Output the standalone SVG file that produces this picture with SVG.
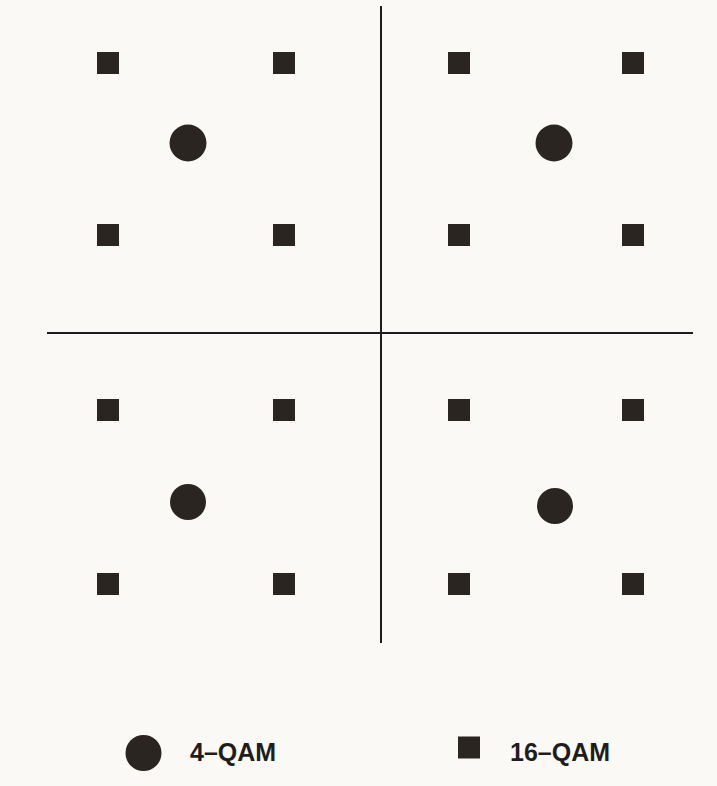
<svg xmlns="http://www.w3.org/2000/svg" width="717" height="786" viewBox="0 0 717 786">
<defs>
<style>
.sq{fill:#2b2521}
.pt{fill:#2b2521}
.ax{stroke:#1e1c1e;stroke-width:2;fill:none}
.lbl{font-family:"Liberation Sans",Arial,sans-serif;font-weight:bold;font-size:25px;fill:#1f1d1c}
</style>
<rect id="sqr" x="-11" y="-11" width="22" height="22" class="sq"/>
</defs>
<rect width="717" height="786" fill="#fbf9f5"/>
<g id="axes">
<line class="ax" x1="381" y1="6" x2="381" y2="643"/>
<line class="ax" x1="47" y1="333" x2="693" y2="333"/>
</g>
<g id="qam16">
<use href="#sqr" x="108" y="63"/>
<use href="#sqr" x="284" y="63"/>
<use href="#sqr" x="459" y="63"/>
<use href="#sqr" x="633" y="63"/>
<use href="#sqr" x="108" y="235"/>
<use href="#sqr" x="284" y="235"/>
<use href="#sqr" x="459" y="235"/>
<use href="#sqr" x="633" y="235"/>
<use href="#sqr" x="108" y="410"/>
<use href="#sqr" x="284" y="410"/>
<use href="#sqr" x="459" y="410"/>
<use href="#sqr" x="633" y="410"/>
<use href="#sqr" x="108" y="584"/>
<use href="#sqr" x="284" y="584"/>
<use href="#sqr" x="459" y="584"/>
<use href="#sqr" x="633" y="584"/>
</g>
<g id="qam4">
<circle class="pt" cx="188" cy="143" r="18.5"/>
<circle class="pt" cx="554" cy="143" r="18.5"/>
<circle class="pt" cx="188" cy="502" r="18"/>
<circle class="pt" cx="555" cy="506" r="18"/>
</g>
<g id="legend-4qam">
<circle class="pt" cx="143.5" cy="753" r="18"/>
<text class="lbl" x="190" y="761">4–QAM</text>
</g>
<g id="legend-16qam">
<use href="#sqr" x="469" y="747.5"/>
<text class="lbl" x="510" y="761">16–QAM</text>
</g>
</svg>
